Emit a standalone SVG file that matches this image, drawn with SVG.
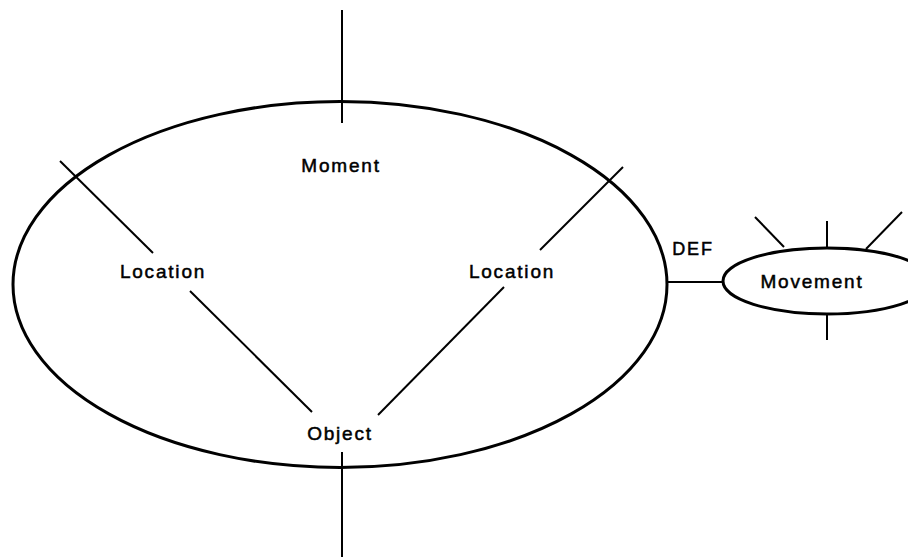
<svg xmlns="http://www.w3.org/2000/svg" width="908" height="558" viewBox="0 0 908 558">
<style>
.lbl{font-family:"Liberation Sans",Arial,sans-serif;font-size:19px;letter-spacing:1.8px;fill:#000;stroke:#000;stroke-width:0.5;text-anchor:middle}
.shape{fill:none;stroke:#000;stroke-width:3}
.ln{stroke:#000;stroke-width:2;fill:none}
</style>
<rect width="908" height="558" fill="#fff"/>
<g id="event">
<ellipse class="shape" cx="340" cy="284.5" rx="327" ry="183"/>
</g>
<g id="moment"><text class="lbl" x="341" y="172">Moment</text></g>
<g id="location-left"><text class="lbl" x="163" y="278">Location</text></g>
<g id="location-right"><text class="lbl" x="512" y="278">Location</text></g>
<g id="object"><text class="lbl" x="340" y="440">Object</text></g>
<g id="movement">
<ellipse class="shape" cx="827" cy="281" rx="104" ry="33"/>
<text class="lbl" x="812" y="288">Movement</text>
</g>
<g id="connectors">
<line class="ln" x1="342" y1="10" x2="342" y2="123"/>
<line class="ln" x1="342" y1="452" x2="342" y2="557" stroke-width="2.5"/>
<line class="ln" x1="60" y1="161" x2="153" y2="253"/>
<line class="ln" x1="623" y1="167" x2="540" y2="250"/>
<line class="ln" x1="190" y1="291" x2="312" y2="412"/>
<line class="ln" x1="504" y1="287" x2="378" y2="415"/>
<line class="ln" x1="668" y1="282" x2="723" y2="282"/>
<line class="ln" x1="755" y1="217" x2="784" y2="247"/>
<line class="ln" x1="827" y1="221" x2="827" y2="248"/>
<line class="ln" x1="902" y1="212" x2="866" y2="249"/>
<line class="ln" x1="827" y1="313" x2="827" y2="340"/>
<text class="lbl" x="693" y="255" style="font-size:18px">DEF</text>
</g>
</svg>
